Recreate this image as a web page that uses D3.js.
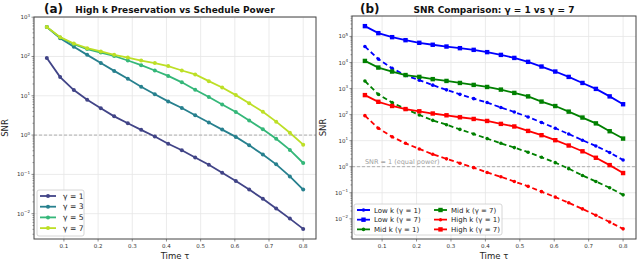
<!DOCTYPE html>
<html>
<head>
<meta charset="utf-8">
<script src="https://cdn.jsdelivr.net/npm/d3@7"></script>
<style>
  body { margin: 0; background: #fff; }
  svg { display: block; font-family: "DejaVu Sans", sans-serif; }
</style>
</head>
<body>
<div id="chart"></div>
<script>
// Time points (tau), 20 steps
const tau = [0.05, 0.089, 0.129, 0.168, 0.208, 0.247, 0.287, 0.326, 0.366, 0.405,
  0.445, 0.484, 0.524, 0.563, 0.603, 0.642, 0.682, 0.721, 0.761, 0.8];

// Panel (a): high k SNR for different schedule powers
const highGamma1 = [91, 30, 14, 7.9, 4.8, 3.0, 2.0, 1.36, 0.92, 0.6,
  0.41, 0.27, 0.176, 0.11, 0.068, 0.041, 0.024, 0.0136, 0.0075, 0.0041];
const highGamma3 = [560, 290, 178, 110, 68, 43, 27, 17, 11, 7.2,
  4.9, 3.2, 2.1, 1.38, 0.9, 0.55, 0.32, 0.18, 0.089, 0.041];
const highGamma5 = [560, 305, 205, 155, 126, 103, 79, 60, 44, 32,
  22, 14.2, 9.3, 6.0, 3.85, 2.35, 1.41, 0.81, 0.42, 0.195];
const highGamma7 = [560, 310, 214, 163, 134, 110, 94, 79, 68, 57,
  44, 35, 23.6, 16.2, 10.4, 6.5, 3.9, 2.2, 1.15, 0.57];
const gammaLabels = ["γ = 1", "γ = 3", "γ = 5", "γ = 7"];

// Panel (b): low / mid k for gamma 1 vs 7 (high k reuses panel a)
const lowGamma1 = [41000, 13500, 6000, 3200, 2100, 1350, 890, 600, 410, 290,
  186, 126, 81, 50, 30, 18, 10.4, 6.2, 3.5, 1.8];
const lowGamma7 = [249000, 134000, 94000, 72000, 57000, 48000, 41000, 35500, 30600, 25000,
  19600, 15000, 10600, 7000, 4500, 2800, 1640, 970, 500, 250];
const midGamma1 = [1950, 600, 290, 164, 97, 60, 41, 27, 18, 12,
  7.9, 5.4, 3.6, 2.3, 1.43, 0.84, 0.46, 0.27, 0.155, 0.083];
const midGamma7 = [11500, 6400, 4500, 3300, 2800, 2300, 1960, 1640, 1380, 1150,
  910, 680, 500, 316, 213, 130, 77, 46, 23, 12];
const compareLabels = ["Low k (γ = 1)", "Low k (γ = 7)", "Mid k (γ = 1)",
  "Mid k (γ = 7)", "High k (γ = 1)", "High k (γ = 7)"];

const xTicks = [0.1, 0.2, 0.3, 0.4, 0.5, 0.6, 0.7, 0.8];

const width = 640;
const height = 267;

const svg = d3
  .select("#chart")
  .append("svg")
  .attr("width", width)
  .attr("height", height);

// log axis with 5% padding like matplotlib
function logDomain(all) {
  const lo = Math.log10(d3.min(all));
  const hi = Math.log10(d3.max(all));
  const pad = (hi - lo) * 0.05;
  return [Math.pow(10, lo - pad), Math.pow(10, hi + pad)];
}

function drawPanel(p) {
  const g = svg.append("g");
  const x = d3.scaleLinear().domain([0.0125, 0.8375]).range([p.left, p.right]);
  const all = p.series.flatMap((s) => s.values);
  const y = d3.scaleLog().domain(logDomain(all)).range([p.bottom, p.top]);

  const expLo = Math.ceil(Math.log10(y.domain()[0]));
  const expHi = Math.floor(Math.log10(y.domain()[1]));
  const yTicks = d3.range(expLo, expHi + 1);

  // grid
  g.selectAll("line.gx")
    .data(xTicks)
    .enter()
    .append("line")
    .attr("x1", (d) => x(d))
    .attr("x2", (d) => x(d))
    .attr("y1", p.top)
    .attr("y2", p.bottom)
    .attr("stroke", "#e6e6e6")
    .attr("stroke-width", 0.8);
  g.selectAll("line.gy")
    .data(yTicks)
    .enter()
    .append("line")
    .attr("x1", p.left)
    .attr("x2", p.right)
    .attr("y1", (d) => y(Math.pow(10, d)))
    .attr("y2", (d) => y(Math.pow(10, d)))
    .attr("stroke", "#e6e6e6")
    .attr("stroke-width", 0.8);

  // SNR = 1 reference
  g.append("line")
    .attr("x1", p.left)
    .attr("x2", p.right)
    .attr("y1", y(1))
    .attr("y2", y(1))
    .attr("stroke", "#a0a0a0")
    .attr("stroke-width", 0.8)
    .attr("stroke-dasharray", "3,2");

  if (p.refText) {
    g.append("text")
      .attr("x", x(0.05))
      .attr("y", y(1) - 3)
      .attr("font-size", 6.5)
      .attr("fill", "#a0a0a0")
      .text(p.refText);
  }

  const line = d3
    .line()
    .x((d, i) => x(tau[i]))
    .y((d) => y(d));

  p.series.forEach((s) => {
    g.append("path")
      .datum(s.values)
      .attr("d", line)
      .attr("fill", "none")
      .attr("stroke", s.color)
      .attr("stroke-width", 1.8)
      .attr("stroke-dasharray", s.dash || null);
    drawMarkers(g, s, x, y);
  });

  // frame
  g.append("rect")
    .attr("x", p.left)
    .attr("y", p.top)
    .attr("width", p.right - p.left)
    .attr("height", p.bottom - p.top)
    .attr("fill", "none")
    .attr("stroke", "#444")
    .attr("stroke-width", 1);

  // x ticks
  const xt = g.selectAll("g.xt").data(xTicks).enter().append("g");
  xt.append("line")
    .attr("x1", (d) => x(d))
    .attr("x2", (d) => x(d))
    .attr("y1", p.bottom)
    .attr("y2", p.bottom + 2.5)
    .attr("stroke", "#444")
    .attr("stroke-width", 0.6);
  xt.append("text")
    .attr("x", (d) => x(d))
    .attr("y", p.bottom + 9)
    .attr("text-anchor", "middle")
    .attr("font-size", 5.5)
    .attr("fill", "#333")
    .text((d) => d3.format(".1f")(d));

  // y ticks (major + minor)
  const minor = [];
  for (let e = expLo - 1; e <= expHi; e++) {
    for (let m = 2; m <= 9; m++) {
      const v = m * Math.pow(10, e);
      if (v > y.domain()[0] && v < y.domain()[1]) minor.push(v);
    }
  }
  g.selectAll("line.ym")
    .data(minor)
    .enter()
    .append("line")
    .attr("x1", p.left - 1.5)
    .attr("x2", p.left)
    .attr("y1", (d) => y(d))
    .attr("y2", (d) => y(d))
    .attr("stroke", "#444")
    .attr("stroke-width", 0.5);
  const yt = g.selectAll("g.yt").data(yTicks).enter().append("g");
  yt.append("line")
    .attr("x1", p.left - 2.5)
    .attr("x2", p.left)
    .attr("y1", (d) => y(Math.pow(10, d)))
    .attr("y2", (d) => y(Math.pow(10, d)))
    .attr("stroke", "#444")
    .attr("stroke-width", 0.6);
  const lab = yt.append("text")
    .attr("x", p.left - 4)
    .attr("y", (d) => y(Math.pow(10, d)) + 2)
    .attr("text-anchor", "end")
    .attr("font-size", 5.5)
    .attr("fill", "#333");
  lab.append("tspan").text("10");
  lab.append("tspan")
    .attr("dy", -2.5)
    .attr("font-size", 4)
    .text((d) => (d < 0 ? "\u2212" + -d : d));

  // labels
  g.append("text")
    .attr("x", (p.left + p.right) / 2)
    .attr("y", 259)
    .attr("text-anchor", "middle")
    .attr("font-size", 8.5)
    .attr("fill", "#222")
    .text("Time τ");
  g.append("text")
    .attr("transform", `translate(${p.left - 26},${(p.top + p.bottom) / 2}) rotate(-90)`)
    .attr("text-anchor", "middle")
    .attr("font-size", 8.5)
    .attr("fill", "#222")
    .text("SNR");
  g.append("text")
    .attr("x", (p.left + p.right) / 2)
    .attr("y", 13)
    .attr("text-anchor", "middle")
    .attr("font-size", 9)
    .attr("font-weight", "bold")
    .attr("fill", "#111")
    .text(p.title);
  g.append("text")
    .attr("x", p.tagX)
    .attr("y", 13)
    .attr("font-size", 12)
    .attr("font-weight", "bold")
    .attr("fill", "#111")
    .text(p.tag);

  drawLegend(g, p);
}

function drawMarkers(g, s, x, y) {
  if (s.marker === "square") {
    g.selectAll(null)
      .data(s.values)
      .enter()
      .append("rect")
      .attr("x", (d, i) => x(tau[i]) - 2.2)
      .attr("y", (d) => y(d) - 2.2)
      .attr("width", 4.4)
      .attr("height", 4.4)
      .attr("fill", s.color);
  } else {
    g.selectAll(null)
      .data(s.values)
      .enter()
      .append("circle")
      .attr("cx", (d, i) => x(tau[i]))
      .attr("cy", (d) => y(d))
      .attr("r", s.r || 2)
      .attr("fill", s.color);
  }
}

function drawLegend(g, p) {
  const L = p.legend;
  g.append("rect")
    .attr("x", L.x)
    .attr("y", L.y)
    .attr("width", L.w)
    .attr("height", L.h)
    .attr("rx", 2)
    .attr("fill", "#fff")
    .attr("fill-opacity", 0.85)
    .attr("stroke", "#ccc")
    .attr("stroke-width", 0.8);
  p.series.forEach((s, i) => {
    const col = Math.floor(i / L.rows);
    const row = i % L.rows;
    const lx = L.x + 3 + col * L.colW;
    const ly = L.y + 6 + row * L.rowH;
    g.append("line")
      .attr("x1", lx)
      .attr("x2", lx + L.lineW)
      .attr("y1", ly)
      .attr("y2", ly)
      .attr("stroke", s.color)
      .attr("stroke-width", 1.8)
      .attr("stroke-dasharray", s.dash || null);
    if (s.marker === "square") {
      g.append("rect")
        .attr("x", lx + L.lineW / 2 - 2.2)
        .attr("y", ly - 2.2)
        .attr("width", 4.4)
        .attr("height", 4.4)
        .attr("fill", s.color);
    } else {
      g.append("circle")
        .attr("cx", lx + L.lineW / 2)
        .attr("cy", ly)
        .attr("r", s.r || 2)
        .attr("fill", s.color);
    }
    g.append("text")
      .attr("x", lx + L.lineW + L.gap)
      .attr("y", ly + 2.6)
      .attr("font-size", L.font)
      .attr("fill", "#222")
      .text(s.label);
  });
}

const viridis = [0.2, 0.433, 0.667, 0.9].map((t) => d3.interpolateViridis(t));

drawPanel({
  left: 34,
  right: 316,
  top: 17,
  bottom: 239,
  tag: "(a)",
  tagX: 44,
  title: "High k Preservation vs Schedule Power",
  series: [highGamma1, highGamma3, highGamma5, highGamma7].map((v, i) => ({
    values: v,
    color: viridis[i],
    label: gammaLabels[i],
    marker: "circle",
    r: 2,
  })),
  legend: { x: 37, y: 190, w: 47, h: 46, rows: 4, rowH: 10.7, colW: 0, lineW: 16, gap: 7, font: 7.6 },
});

const blue = "#0000ff";
const green = "#008000";
const red = "#ff0000";
drawPanel({
  left: 352,
  right: 636,
  top: 16,
  bottom: 239,
  tag: "(b)",
  tagX: 360,
  title: "SNR Comparison: γ = 1 vs γ = 7",
  refText: "SNR = 1 (equal power)",
  series: [
    { values: lowGamma1, color: blue, dash: "5,3", marker: "circle", r: 1.8 },
    { values: lowGamma7, color: blue, marker: "square" },
    { values: midGamma1, color: green, dash: "5,3", marker: "circle", r: 1.8 },
    { values: midGamma7, color: green, marker: "square" },
    { values: highGamma1, color: red, dash: "5,3", marker: "circle", r: 1.8 },
    { values: highGamma7, color: red, marker: "square" },
  ].map((s, i) => Object.assign(s, { label: compareLabels[i] })),
  legend: { x: 354, y: 204, w: 148, h: 31, rows: 3, rowH: 9.7, colW: 77, lineW: 13, gap: 4, font: 7 },
});
</script>
</body>
</html>
